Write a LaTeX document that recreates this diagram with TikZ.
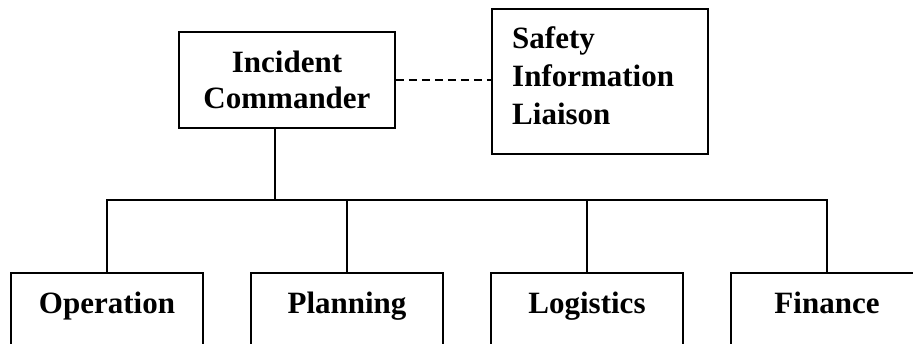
\documentclass[tikz,border=0pt]{standalone}
\usepackage{fontspec}
\setmainfont{Liberation Serif}
\begin{document}
\begin{tikzpicture}[x=1pt,y=1pt,
  lw/.style={line width=1.8pt},
  box/.style={draw, lw, inner sep=0pt},
  txt/.style={font=\fontsize{31}{37}\selectfont\bfseries},
  sub/.style={box, txt, anchor=north, minimum width=192pt, text height=41pt, text depth=60pt},
  link/.style={lw},
  dlink/.style={lw, dash pattern=on 8pt off 5pt}]
\useasboundingbox (0,0) rectangle (913,343);
\clip (0,0) rectangle (913,343);
% top
\node[box, txt, minimum width=216pt, minimum height=96pt, align=center] (cic) at (287,263) {Incident\\[-1pt]Commander};
\node[box, minimum width=216pt, minimum height=145pt, anchor=north west] (saf) at (491,335) {};
\node[txt, inner sep=0pt, anchor=north west, align=left] (saftxt) at (512,317) {Safety\\[1pt]Information\\[1pt]Liaison};
% bottom
\node[sub] (op) at (107,71) {Operation};
\node[sub] (plan) at (347,71) {Planning};
\node[sub] (log) at (587,71) {Logistics};
\node[sub] (fin) at (827,71) {Finance};
\coordinate (j) at (275,143);
% connectors
\draw[dlink] (cic.east) -- (cic.east -| saf.west);
\draw[link] (cic.south -| j) -- (j);
\draw[link] (op.north) -- (op.north |- j) -- (fin.north |- j) -- (fin.north);
\draw[link] (plan.north) -- (plan.north |- j);
\draw[link] (log.north) -- (log.north |- j);
\end{tikzpicture}
\end{document}
